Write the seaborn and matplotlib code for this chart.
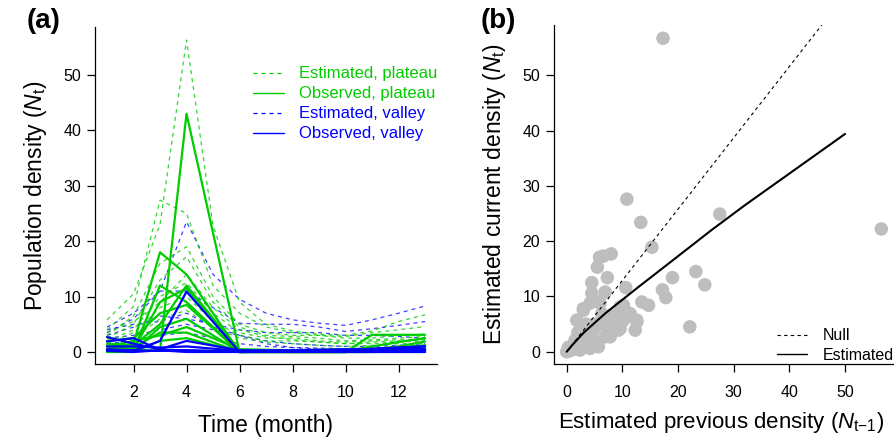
import numpy as np
import pandas as pd
import matplotlib
matplotlib.use("Agg")
import matplotlib.pyplot as plt
from matplotlib.lines import Line2D
import seaborn as sns

# ---------------- data: panel (a) ----------------
months_obs = [1, 2, 3, 4, 6, 8, 10, 11, 12, 13]
months_est = [1, 2, 3, 4, 5, 6, 7, 8, 9, 10, 11, 12, 13]

obs_plateau = [
    [1.0, 0.5, 0.2, 43.0, 0.0, 0.0, 0.0, 3.1, 3.1, 3.1],
    [0.5, 1.5, 18.0, 14.0, 0.0, 0.0, 0.0, 0.5, 1.0, 1.9],
    [0.0, 0.3, 12.0, 9.0, 0.0, 0.0, 0.0, 0.3, 0.8, 1.2],
    [1.5, 1.2, 5.0, 12.0, 0.2, 0.0, 0.0, 0.5, 0.8, 1.0],
    [0.2, 0.5, 9.0, 11.5, 0.3, 0.1, 0.2, 1.0, 1.8, 2.5],
    [2.0, 2.5, 7.0, 8.5, 0.0, 0.0, 0.0, 0.2, 0.5, 0.6],
    [0.5, 0.2, 4.5, 6.0, 0.0, 0.0, 0.0, 0.0, 0.2, 0.3],
    [1.0, 2.0, 3.0, 4.5, 0.5, 0.3, 0.5, 0.4, 0.3, 0.2],
    [0.0, 0.0, 2.0, 2.5, 0.0, 0.0, 0.0, 0.0, 0.0, 0.0],
    [1.2, 0.8, 3.5, 3.5, 0.0, 0.2, 0.1, 0.3, 0.3, 0.4],
]
obs_valley = [
    [1.9, 2.5, 0.4, 0.3, 0.0, 0.2, 0.3, 0.5, 0.8, 1.0],
    [0.3, 0.2, 2.0, 10.9, 0.0, 0.1, 0.2, 0.3, 0.4, 0.5],
    [2.7, 1.5, 0.5, 2.0, 0.3, 0.3, 0.5, 0.5, 0.5, 0.5],
    [0.5, 0.3, 0.2, 0.3, 0.1, 0.2, 0.2, 0.3, 0.3, 0.3],
    [1.0, 1.0, 0.8, 1.0, 0.2, 0.1, 0.2, 0.6, 0.8, 1.0],
    [0.2, 0.0, 0.3, 0.0, 0.0, 0.0, 0.0, 0.0, 0.0, 0.0],
]
est_plateau = [
    [5.8, 10.5, 23.0, 56.3, 22.8, 9.0, 5.0, 3.8, 3.2, 3.0, 3.8, 5.5, 6.7],
    [4.0, 8.2, 27.4, 25.0, 12.0, 7.0, 4.5, 3.5, 3.0, 2.8, 3.5, 4.0, 4.6],
    [3.0, 6.5, 16.0, 19.0, 10.0, 5.0, 3.5, 3.0, 3.0, 2.5, 2.5, 3.0, 3.2],
    [2.5, 5.0, 13.0, 17.2, 9.0, 4.5, 3.0, 2.8, 2.5, 2.0, 2.2, 2.5, 2.8],
    [2.0, 4.0, 10.0, 12.5, 7.0, 3.5, 2.5, 2.5, 2.0, 1.8, 2.0, 2.2, 2.3],
    [1.5, 3.5, 8.0, 10.0, 5.5, 3.0, 2.0, 2.0, 1.8, 1.5, 1.5, 1.8, 2.0],
    [1.0, 2.5, 6.0, 7.5, 4.5, 2.5, 1.8, 1.5, 1.2, 1.0, 1.2, 1.5, 1.5],
    [3.5, 5.5, 9.0, 14.0, 8.0, 4.0, 2.8, 2.2, 1.8, 1.5, 1.8, 2.0, 2.2],
]
est_valley = [
    [3.5, 6.0, 11.0, 23.5, 14.0, 9.5, 7.0, 5.8, 5.2, 4.8, 5.8, 7.0, 8.3],
    [4.5, 7.0, 11.0, 11.0, 8.0, 5.2, 5.0, 5.0, 4.5, 3.7, 4.2, 4.8, 5.5],
    [3.0, 4.5, 6.5, 6.0, 5.0, 4.0, 3.5, 3.5, 3.5, 3.0, 3.0, 2.8, 2.5],
    [2.5, 3.0, 4.0, 5.0, 4.0, 3.0, 2.0, 1.5, 1.2, 1.0, 1.0, 1.2, 1.5],
    [1.5, 2.0, 3.0, 3.5, 2.5, 1.5, 1.0, 0.8, 0.7, 0.6, 0.7, 0.8, 1.0],
    [4.0, 5.0, 5.5, 7.0, 4.5, 3.0, 1.5, 0.8, 0.5, 0.4, 0.4, 0.4, 0.4],
]
legend_a_labels = ["Estimated, plateau", "Observed, plateau",
                   "Estimated, valley", "Observed, valley"]

# ---------------- data: panel (b) ----------------
prev_density = [17.3, 56.5, 10.8, 13.3, 27.5, 15.3, 5.9, 6.6, 8.0, 5.5, 7.3, 4.5,
                10.6, 19.0, 23.2, 24.8, 17.2, 17.8, 13.5, 14.7, 22.1, 4.5, 6.9,
                4.2, 6.0, 3.0, 10.2, 10.5, 8.4, 11.4, 12.6, 12.3, 9.6, 7.2, 5.7,
                4.2, 2.4, 0.9, 0.0, 5.7, 3.0, 6.3, 1.8, 3.0, 4.8, 8.4, 10.2, 11.1,
                9.6, 12.6, 9.3, 6.9, 1.5, 5.4, 7.8, 1.5, 2.7, 1.0, 2.0, 3.5, 1.2,
                0.5, 2.5, 4.0, 5.0, 3.5, 6.5, 8.0, 0.3, 2.0, 0.2]
curr_density = [56.7, 22.2, 27.6, 23.4, 24.9, 18.9, 17.1, 17.3, 17.7, 15.3, 13.4,
                12.5, 11.6, 13.4, 14.5, 12.1, 11.2, 9.8, 9.0, 8.4, 4.5, 10.6,
                10.8, 8.8, 8.8, 7.8, 8.4, 6.9, 6.3, 6.9, 5.4, 3.9, 4.2, 3.3, 0.9,
                0.6, 0.3, 0.3, 0.0, 9.0, 7.5, 6.9, 5.7, 4.5, 3.9, 4.5, 5.7, 6.9,
                8.1, 5.7, 3.9, 2.7, 2.1, 1.8, 2.7, 0.6, 3.3, 1.0, 1.5, 2.0, 0.5,
                0.2, 2.5, 4.0, 5.0, 5.0, 5.0, 6.5, 0.8, 3.5, 0.1]
null_x = [0, 50]
null_y = [0, 64.5]
fit_x = [0, 1, 3, 7, 13, 19, 26, 32, 38, 44, 50]
fit_y = [0, 1.2, 3.4, 7.0, 11.8, 16.5, 22.0, 26.5, 30.8, 35.1, 39.4]
legend_b_labels = ["Null", "Estimated"]

# ---------------- styling ----------------
sns.set_theme(style="ticks")
plt.rcParams["font.family"] = ["Liberation Sans", "DejaVu Sans"]
plt.rcParams["mathtext.fontset"] = "custom"
plt.rcParams["mathtext.rm"] = "Liberation Sans"
plt.rcParams["mathtext.it"] = "Liberation Sans:italic"
plt.rcParams["axes.linewidth"] = 0.9
for k in ("text.color", "axes.labelcolor", "xtick.color", "ytick.color", "axes.edgecolor"):
    plt.rcParams[k] = "black"

GREEN = "#00CD00"
BLUE = "#0000FF"

W, H = 895, 437
fig = plt.figure(figsize=(W / 100, H / 100), dpi=100)

def frac(l, r, t, b):
    return [l / W, (H - b) / H, (r - l) / W, (b - t) / H]

axa = fig.add_axes(frac(95, 437, 27, 364))
axb = fig.add_axes(frac(554, 898, 25, 364))

# ---- panel (a)
dash = (3.2, 3.2)
for s in est_valley:
    sns.lineplot(x=months_est, y=s, ax=axa, color=BLUE, lw=0.9, alpha=0.75,
                 legend=False).lines[-1].set_dashes(dash)
for s in est_plateau:
    sns.lineplot(x=months_est, y=s, ax=axa, color=GREEN, lw=0.9, alpha=0.8,
                 legend=False).lines[-1].set_dashes(dash)
for s in obs_plateau:
    sns.lineplot(x=months_obs, y=s, ax=axa, color=GREEN, lw=1.6, legend=False)
for s in obs_valley:
    sns.lineplot(x=months_obs, y=s, ax=axa, color=BLUE, lw=1.6, legend=False)

axa.set_xlim(0.547, 13.45)
axa.set_ylim(-2.17, 58.66)
axa.set_xticks([2, 4, 6, 8, 10, 12])
axa.set_yticks([0, 10, 20, 30, 40, 50])
axa.set_xlabel("Time (month)", fontsize=16.5, labelpad=10)
axa.set_ylabel(r"Population density ($\mathit{N}_{\mathrm{t}}$)", fontsize=16.5, labelpad=10)

hA = [Line2D([], [], color=GREEN, lw=0.9, dashes=dash),
      Line2D([], [], color=GREEN, lw=1.0),
      Line2D([], [], color=BLUE, lw=0.9, dashes=dash),
      Line2D([], [], color=BLUE, lw=1.0)]
axa.legend(hA, legend_a_labels, loc="upper left", bbox_to_anchor=(0.462, 0.883),
           frameon=False, fontsize=12, handlelength=1.85, handletextpad=0.9,
           labelspacing=0.3, borderpad=0, borderaxespad=0,
           labelcolor=[GREEN, GREEN, BLUE, BLUE])

# ---- panel (b)
sns.scatterplot(x=prev_density, y=curr_density, ax=axb, color="#BEBEBE", s=95,
                edgecolor="none", linewidth=0, legend=False)
sns.lineplot(x=null_x, y=null_y, ax=axb, color="black", lw=0.8, legend=False)
axb.lines[-1].set_dashes((3, 3))
sns.lineplot(x=fit_x, y=fit_y, ax=axb, color="black", lw=1.5, legend=False)

axb.set_xlim(-2.28, 59.5)
axb.set_ylim(-2.22, 59.1)
axb.set_xticks([0, 10, 20, 30, 40, 50])
axb.set_yticks([0, 10, 20, 30, 40, 50])
xlab_b = "Estimated previous density ($\\mathit{N}_{\\mathrm{t{\u2212}1}}$)"
axb.set_xlabel(xlab_b, fontsize=16)
axb.xaxis.set_label_coords(0.486, -0.135)
axb.set_ylabel(r"Estimated current density ($\mathit{N}_{\mathrm{t}}$)", fontsize=16.5, labelpad=10)

hB = [Line2D([], [], color="black", lw=0.8, dashes=(3, 3)),
      Line2D([], [], color="black", lw=1.0)]
axb.legend(hB, legend_b_labels, loc="upper left", bbox_to_anchor=(0.648, 0.105),
           frameon=False, fontsize=11.5, handlelength=1.9, handletextpad=0.95,
           labelspacing=0.28, borderpad=0, borderaxespad=0)

for ax in (axa, axb):
    sns.despine(ax=ax)
    ax.tick_params(axis="both", direction="out", length=6, width=0.9,
                   labelsize=11.5, colors="black")
    ax.tick_params(axis="x", pad=9)
    ax.tick_params(axis="y", pad=4)

fig.text(27 / W, 1 - 21 / H, "(a)", fontsize=20, fontweight="bold", va="center", ha="left")
fig.text(481 / W, 1 - 21 / H, "(b)", fontsize=20, fontweight="bold", va="center", ha="left")

fig.savefig("out.png", dpi=100)
